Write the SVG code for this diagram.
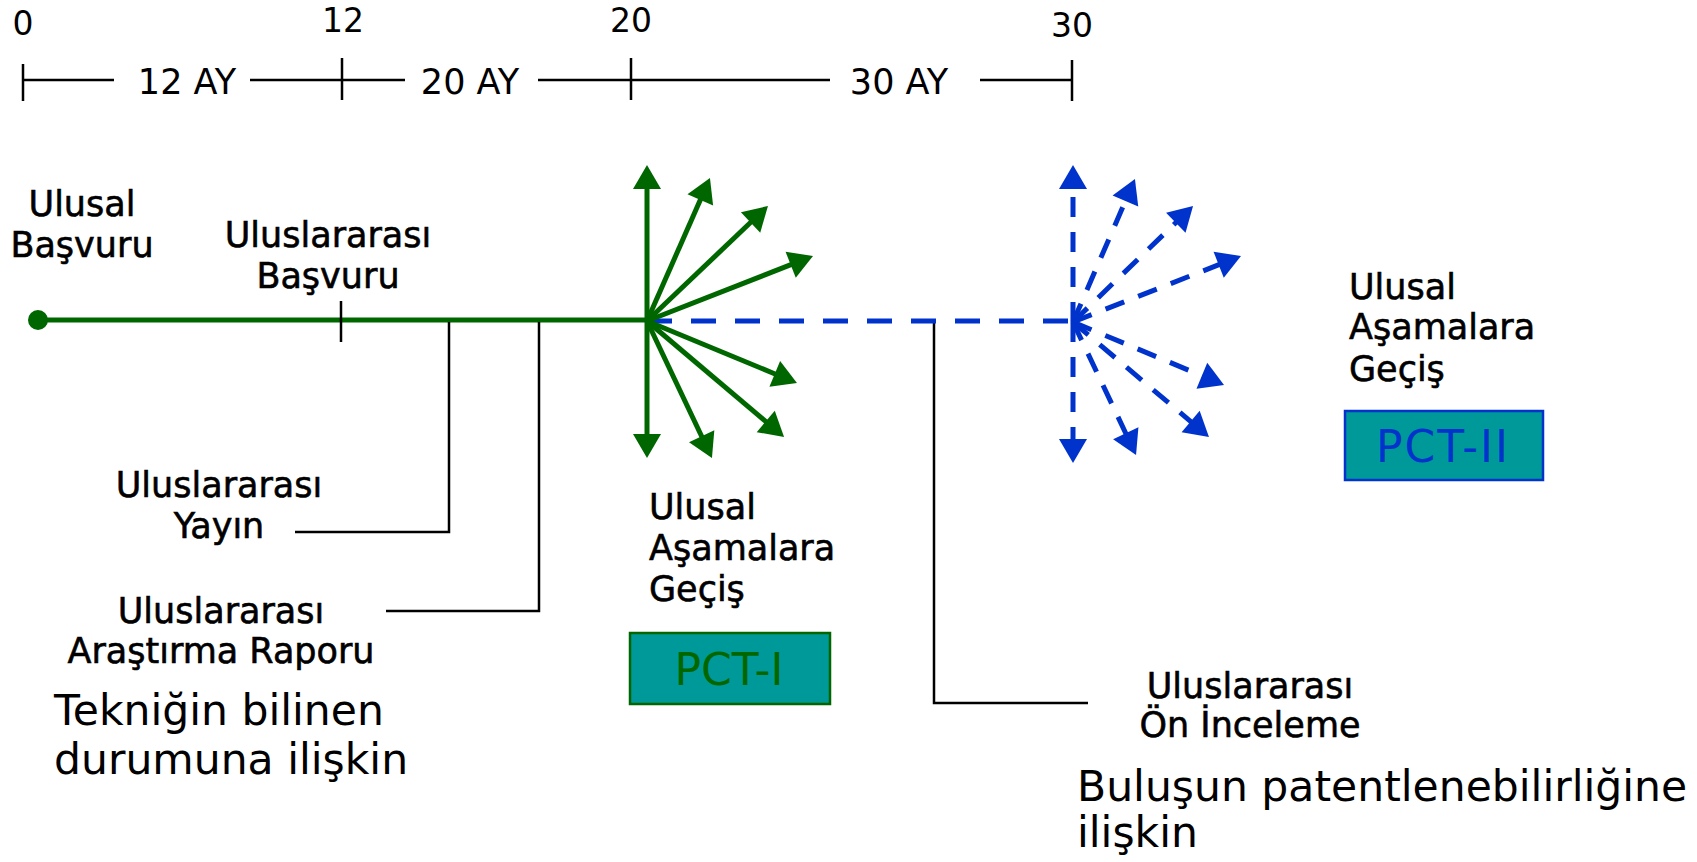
<svg xmlns="http://www.w3.org/2000/svg" width="1697" height="862" viewBox="0 0 1697 862">
<style>
text{font-family:"DejaVu Sans","Liberation Sans",sans-serif;fill:#000}
.t{font-size:35px;stroke:#000;stroke-width:0.6}
.n{font-size:33px}
.big{font-size:42.5px}
.blk{stroke:#000;stroke-width:2.5;fill:none}
.g{stroke:#006600;stroke-width:5;fill:none}
.b{stroke:#0033cc;stroke-width:5;fill:none;stroke-dasharray:20 15}
</style>
<defs>
<marker id="ag" markerUnits="userSpaceOnUse" markerWidth="30" markerHeight="30" refX="0" refY="0" orient="auto" overflow="visible"><path d="M-1,-14 L23,0 L-1,14 z" fill="#006600"/></marker>
<marker id="ab" markerUnits="userSpaceOnUse" markerWidth="30" markerHeight="30" refX="0" refY="0" orient="auto" overflow="visible"><path d="M-1,-14 L23,0 L-1,14 z" fill="#0033cc"/></marker>
</defs>
<g id="timeline">
<path class="blk" d="M23,80 H114 M250,80 H405 M538,80 H830 M980,80 H1072 M23,64 V101 M342,58 V100 M631,58 V100 M1072,60 V101"/>
<text class="n" x="23" y="35" text-anchor="middle">0</text>
<text class="n" x="343" y="32" text-anchor="middle">12</text>
<text class="n" x="631" y="32" text-anchor="middle">20</text>
<text class="n" x="1072" y="37" text-anchor="middle">30</text>
<text class="t" x="187" y="94" text-anchor="middle" style="stroke-width:0">12 AY</text>
<text class="t" x="470" y="94" text-anchor="middle" style="stroke-width:0">20 AY</text>
<text class="t" x="899" y="94" text-anchor="middle" style="stroke-width:0">30 AY</text>
</g>
<g id="connectors">
<line class="g" x1="38" y1="320" x2="647" y2="320"/>
<path class="blk" d="M341,301 V342 M449,322 V532 H295 M539,322 V611 H386 M934,323 V703 H1088"/>
<line x1="647" y1="321" x2="1073" y2="321" stroke="#0033cc" stroke-width="5" stroke-dasharray="25 19"/>
<g id="green-arrows">
<line class="g" x1="647" y1="321" x2="647" y2="188" marker-end="url(#ag)"/>
<line class="g" x1="647" y1="321" x2="647" y2="435" marker-end="url(#ag)"/>
<line class="g" x1="647" y1="321" x2="700.7" y2="199" marker-end="url(#ag)"/>
<line class="g" x1="647" y1="321" x2="751.3" y2="221.8" marker-end="url(#ag)"/>
<line class="g" x1="647" y1="321" x2="791.6" y2="264.4" marker-end="url(#ag)"/>
<line class="g" x1="647" y1="321" x2="775.7" y2="374.2" marker-end="url(#ag)"/>
<line class="g" x1="647" y1="321" x2="766.5" y2="422.1" marker-end="url(#ag)"/>
<line class="g" x1="647" y1="321" x2="702.1" y2="437.2" marker-end="url(#ag)"/>
</g>
<g id="blue-arrows">
<line class="b" x1="1073" y1="322" x2="1073" y2="188" marker-end="url(#ab)"/>
<line class="b" x1="1073" y1="322" x2="1073" y2="440" marker-end="url(#ab)"/>
<line class="b" x1="1073" y1="322" x2="1125.8" y2="200.1" marker-end="url(#ab)"/>
<line class="b" x1="1073" y1="322" x2="1176.5" y2="222" marker-end="url(#ab)"/>
<line class="b" x1="1073" y1="322" x2="1219.6" y2="264.4" marker-end="url(#ab)"/>
<line class="b" x1="1073" y1="322" x2="1202.8" y2="376.1" marker-end="url(#ab)"/>
<line class="b" x1="1073" y1="322" x2="1191.4" y2="422.1" marker-end="url(#ab)"/>
<line class="b" x1="1073" y1="322" x2="1126.2" y2="434.2" marker-end="url(#ab)"/>
</g>
</g>
<g id="ulusal-basvuru">
<circle cx="38" cy="320" r="10" fill="#006600"/>
<text class="t" x="82" y="216" text-anchor="middle">Ulusal</text>
<text class="t" x="82" y="257" text-anchor="middle">Başvuru</text>
</g>
<g id="uluslararasi-basvuru">
<text class="t" x="328" y="247" text-anchor="middle">Uluslararası</text>
<text class="t" x="328" y="288" text-anchor="middle">Başvuru</text>
</g>
<g id="uluslararasi-yayin">
<text class="t" x="219" y="497" text-anchor="middle">Uluslararası</text>
<text class="t" x="219" y="538" text-anchor="middle">Yayın</text>
</g>
<g id="arastirma-raporu">
<text class="t" x="221" y="623" text-anchor="middle">Uluslararası</text>
<text class="t" x="221" y="663" text-anchor="middle">Araştırma Raporu</text>
<text class="big" x="54" y="725">Tekniğin bilinen</text>
<text class="big" x="54" y="774">durumuna ilişkin</text>
</g>
<g id="pct1">
<text class="t" x="649" y="519">Ulusal</text>
<text class="t" x="649" y="560">Aşamalara</text>
<text class="t" x="649" y="601">Geçiş</text>
<rect x="630" y="633" width="200" height="71" fill="#009999" stroke="#006600" stroke-width="2.5"/>
<text x="729" y="685" text-anchor="middle" style="font-size:44px;fill:#006600">PCT-I</text>
</g>
<g id="pct2">
<text class="t" x="1349" y="299">Ulusal</text>
<text class="t" x="1349" y="339">Aşamalara</text>
<text class="t" x="1349" y="381">Geçiş</text>
<rect x="1345" y="411" width="198" height="69" fill="#009999" stroke="#0033cc" stroke-width="2.5"/>
<text x="1443" y="462" text-anchor="middle" style="font-size:44px;fill:#0033cc;letter-spacing:2px">PCT-II</text>
</g>
<g id="on-inceleme">
<text class="t" x="1250" y="698" text-anchor="middle">Uluslararası</text>
<text class="t" x="1250" y="737" text-anchor="middle">Ön İnceleme</text>
<text class="big" x="1077" y="801">Buluşun patentlenebilirliğine</text>
<text class="big" x="1077" y="847">ilişkin</text>
</g>
</svg>
